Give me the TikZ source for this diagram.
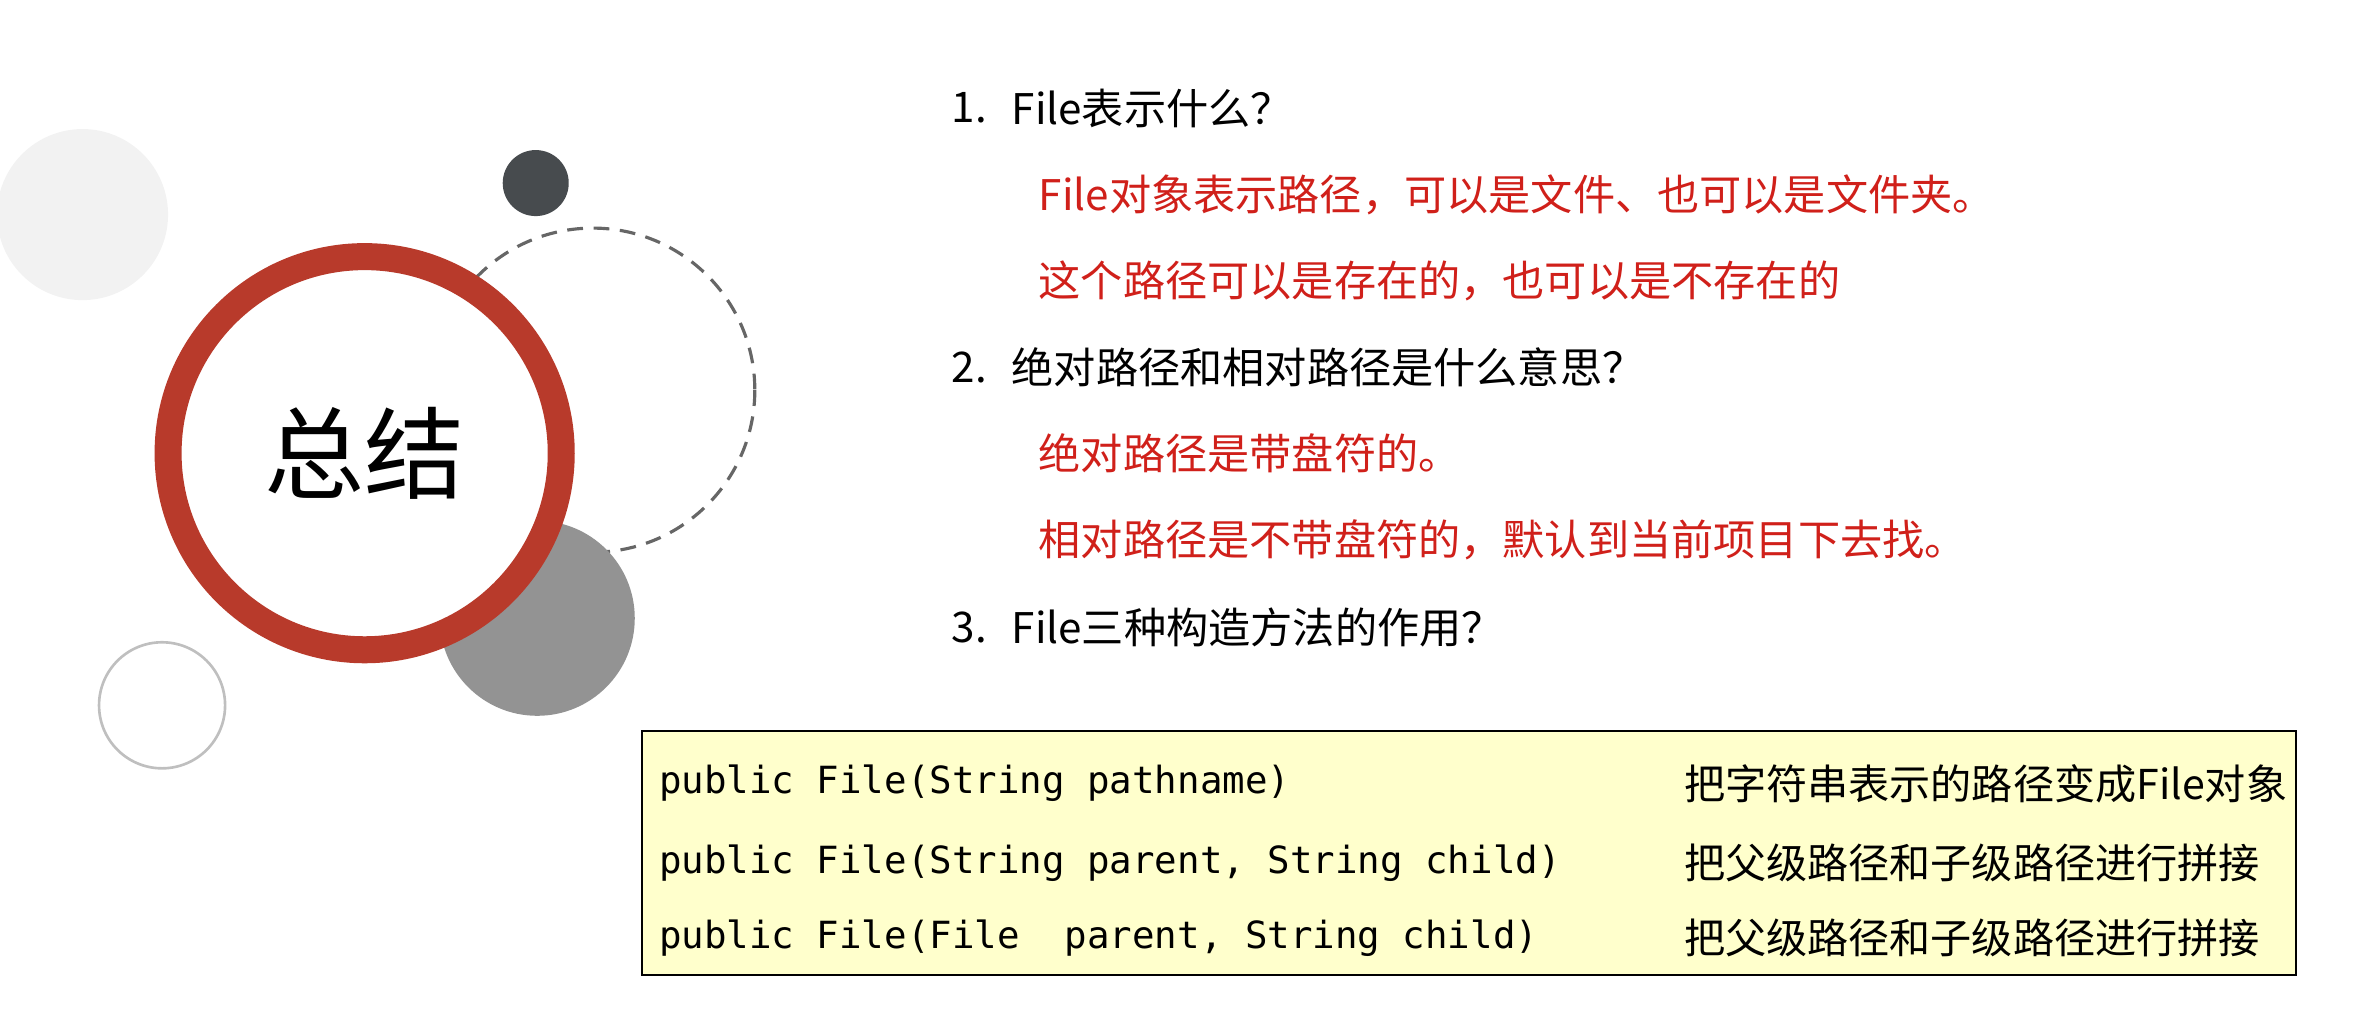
\documentclass[tikz,border=0pt]{standalone}
\usepackage{fontspec}
\setmainfont{Noto Sans CJK SC}
\setmonofont{DejaVu Sans Mono}
\usetikzlibrary{positioning}
\definecolor{ringred}{HTML}{B83A2B}
\definecolor{answred}{HTML}{D0201A}
\definecolor{boxyellow}{HTML}{FFFFCC}
\definecolor{darkdot}{HTML}{474B4E}
\begin{document}
\begin{tikzpicture}[x=0.02cm,y=-0.02cm,
    question/.style={anchor=west, font=\fontsize{16}{19}\selectfont},
    answer/.style={anchor=west, text=answred, font=\fontsize{16}{19}\selectfont},
    code/.style={anchor=west, font=\fontsize{14.2}{17}\selectfont\ttfamily},
    desc/.style={anchor=west, font=\fontsize{15.6}{18}\selectfont},
    ]
\useasboundingbox (0,0) rectangle (1568,672);
% -------------------------------------------------
% Decorative circles
\fill [gray!10] (55,143) circle (57);
\fill [darkdot] (357,122) circle (22);
\draw [gray!80!black, line width=1.2pt, dash pattern=on 6pt off 4pt] (395,260) circle (108);
\fill [gray!85] (358,412) circle (65);
\draw [gray!50, line width=1pt] (108,470) circle (42);
\draw [ringred, fill=white, line width=3.6mm] (243,302) circle (131);
\node (title) at (243,302) {\fontsize{38}{44}\selectfont 总结};
% -------------------------------------------------
% Questions and answers
\node [question] (n1) at (628,72) {1.};
\node [question] (q1) at (668,72) {File表示什么？};
\node [answer] (a1a) at (686,130) {File对象表示路径，可以是文件、也可以是文件夹。};
\node [answer] (a1b) at (686,187) {这个路径可以是存在的，也可以是不存在的};
\node [question] (n2) at (628,245) {2.};
\node [question] (q2) at (668,245) {绝对路径和相对路径是什么意思？};
\node [answer] (a2a) at (686,302) {绝对路径是带盘符的。};
\node [answer] (a2b) at (686,360) {相对路径是不带盘符的，默认到当前项目下去找。};
\node [question] (n3) at (628,418) {3.};
\node [question] (q3) at (668,418) {File三种构造方法的作用？};
% -------------------------------------------------
% Constructor table
\draw [fill=boxyellow, line width=0.8pt] (428,487) rectangle (1530,650);
\node [code] (c1) at (433,522) {public File(String pathname)};
\node [code] (c2) at (433,575) {public File(String parent, String child)};
\node [code] (c3) at (433,625) {public File(File~~parent, String child)};
\node [desc] (d1) at (1116,522) {把字符串表示的路径变成File对象};
\node [desc] (d2) at (1116,575) {把父级路径和子级路径进行拼接};
\node [desc] (d3) at (1116,625) {把父级路径和子级路径进行拼接};
\end{tikzpicture}
\end{document}
